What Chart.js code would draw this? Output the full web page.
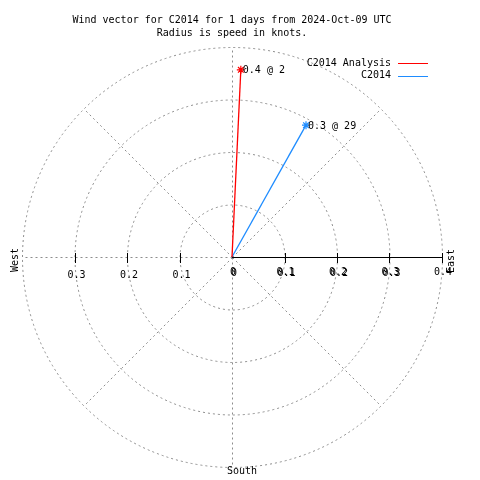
<!DOCTYPE html>
<html>
<head>
<meta charset="utf-8">
<script src="https://cdn.jsdelivr.net/npm/chart.js@4/dist/chart.umd.min.js"></script>
<style>
html,body{margin:0;padding:0;background:#fff;}
#wrap{width:480px;height:480px;}
</style>
</head>
<body>
<div id="wrap"><canvas id="c" width="480" height="480"></canvas></div>
<script>
// ---- data ----
const seriesNames = ['C2014 Analysis', 'C2014'];
const speeds = [0.357, 0.288];          // knots
const directions = [2.7, 29.3];         // degrees clockwise from north
const vectorLabels = ['0.4 @ 2', '0.3 @ 29'];
const seriesColors = ['#ff0000', '#1e8cff'];
const ringValues = [0.1, 0.2, 0.3, 0.4];
const spokeAngles = [0, 45, 90, 135, 180, 225, 270, 315];
const posTicks = [0, 0.1, 0.2, 0.3, 0.4];
const posTickLabels = ['0', '0.1', '0.2', '0.3', '0.4'];
const negTicks = [-0.1, -0.2, -0.3];
const negTickLabels = ['0.1', '0.2', '0.3'];
const titleLines = ['Wind vector for C2014 for 1 days from 2024-Oct-09 UTC', 'Radius is speed in knots.'];
const rMax = 0.4;

const FONT = '10px "DejaVu Sans Mono", "Liberation Mono", monospace';

const datasets = seriesNames.map((name, i) => {
  const a = directions[i] * Math.PI / 180;
  return {
    label: name,
    data: [{x: 0, y: 0}, {x: speeds[i] * Math.sin(a), y: speeds[i] * Math.cos(a)}],
    showLine: true,
    borderColor: seriesColors[i],
    backgroundColor: seriesColors[i],
    borderWidth: 1.3,
    pointStyle: 'star',
    pointRadius: [0, 4],
    pointBorderWidth: 1.2,
    pointBorderColor: seriesColors[i],
    clip: false
  };
});

const polarPlugin = {
  id: 'polar',
  beforeDatasetsDraw(chart) {
    const ctx = chart.ctx, xs = chart.scales.x, ys = chart.scales.y;
    const cx = xs.getPixelForValue(0), cy = ys.getPixelForValue(0);
    const pr = v => xs.getPixelForValue(v) - cx;
    ctx.save();
    ctx.strokeStyle = '#8c8c8c';
    ctx.lineWidth = 1;
    ctx.setLineDash([2, 3]);
    ringValues.forEach(r => {
      ctx.beginPath();
      ctx.arc(cx + 0.5, cy + 0.5, pr(r), 0, Math.PI * 2);
      ctx.stroke();
    });
    spokeAngles.forEach(deg => {
      if (deg === 90) return; // east drawn as solid axis
      const a = deg * Math.PI / 180;
      ctx.beginPath();
      ctx.moveTo(cx + 0.5, cy + 0.5);
      ctx.lineTo(cx + 0.5 + pr(rMax) * Math.sin(a), cy + 0.5 - pr(rMax) * Math.cos(a));
      ctx.stroke();
    });
    ctx.setLineDash([]);
    // solid east axis
    ctx.strokeStyle = '#000';
    ctx.beginPath();
    ctx.moveTo(cx, cy + 0.5);
    ctx.lineTo(xs.getPixelForValue(rMax), cy + 0.5);
    ctx.stroke();
    // ticks
    posTicks.concat(negTicks).forEach(v => {
      if (v === 0) return;
      const x = Math.round(xs.getPixelForValue(v)) + 0.5;
      ctx.beginPath();
      ctx.moveTo(x, cy - 4);
      ctx.lineTo(x, cy + 6);
      ctx.stroke();
    });
    ctx.restore();
  },
  afterDraw(chart) {
    const ctx = chart.ctx, xs = chart.scales.x, ys = chart.scales.y;
    const cx = xs.getPixelForValue(0), cy = ys.getPixelForValue(0);
    ctx.save();
    ctx.font = FONT;
    ctx.fillStyle = '#000';
    ctx.textBaseline = 'middle';
    // title
    ctx.textAlign = 'center';
    titleLines.forEach((t, i) => ctx.fillText(t, 232, 20 + i * 13));
    // tick labels
    posTicks.forEach((v, i) => {
      const x = xs.getPixelForValue(v);
      ctx.fillText(posTickLabels[i], x + 1, cy + 15);
      if (v < rMax) ctx.fillText(posTickLabels[i], x + 2, cy + 16);
    });
    negTicks.forEach((v, i) => {
      ctx.fillText(negTickLabels[i], xs.getPixelForValue(v) + 2, cy + 18);
    });
    // compass labels
    ctx.fillText('South', 242, 471);
    ctx.save();
    ctx.translate(15, 260); ctx.rotate(-Math.PI / 2); ctx.fillText('West', 0, 0);
    ctx.restore();
    ctx.save();
    ctx.translate(451, 261); ctx.rotate(-Math.PI / 2); ctx.fillText('East', 0, 0);
    ctx.restore();
    // vector labels
    ctx.textAlign = 'left';
    chart.data.datasets.forEach((ds, i) => {
      const p = chart.getDatasetMeta(i).data[1];
      ctx.fillText(vectorLabels[i], p.x + 2, p.y + 1);
    });
    // legend
    seriesNames.forEach((n, i) => {
      const y = 63 + i * 12.5;
      ctx.textAlign = 'right';
      ctx.fillStyle = '#000';
      ctx.fillText(n, 391, y);
      ctx.strokeStyle = seriesColors[i];
      ctx.lineWidth = 1;
      ctx.beginPath();
      ctx.moveTo(398, Math.round(y) + 0.5);
      ctx.lineTo(428, Math.round(y) + 0.5);
      ctx.stroke();
    });
    ctx.restore();
  }
};

new Chart(document.getElementById('c'), {
  type: 'scatter',
  data: { datasets },
  options: {
    responsive: false,
    animation: false,
    layout: { padding: { left: 22, right: 38, top: 47, bottom: 13 } },
    scales: {
      x: { type: 'linear', min: -rMax, max: rMax, display: false },
      y: { type: 'linear', min: -rMax, max: rMax, display: false }
    },
    plugins: { legend: { display: false }, tooltip: { enabled: false }, title: { display: false } }
  },
  plugins: [polarPlugin]
});
</script>
</body>
</html>
